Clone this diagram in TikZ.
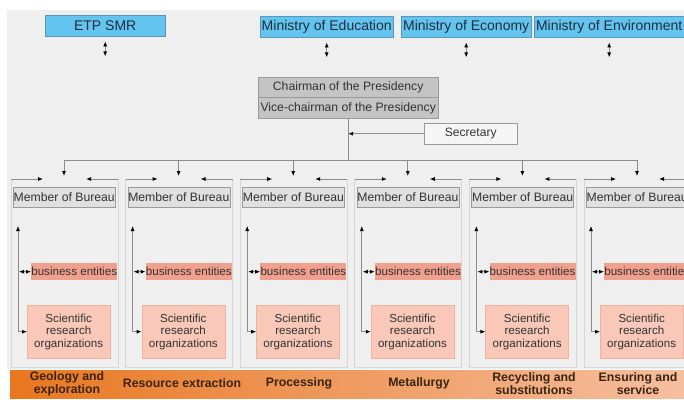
\documentclass[tikz,border=0pt]{standalone}
\usepackage{fontspec}
\setmainfont{Liberation Sans}
\usetikzlibrary{arrows.meta}
\definecolor{bggray}{HTML}{EFEFEF}
\definecolor{minblue}{HTML}{63C4F0}
\definecolor{minline}{HTML}{5A96B9}
\definecolor{mintext}{HTML}{1F2D3D}
\definecolor{chairgray}{HTML}{C4C4C4}
\definecolor{boxline}{HTML}{9A9A9A}
\definecolor{secfill}{HTML}{F5F5F5}
\definecolor{memfill}{HTML}{E0E0E0}
\definecolor{framegray}{HTML}{D6D6D6}
\definecolor{linegray}{HTML}{8C8C8C}
\definecolor{entfill}{HTML}{F2A08E}
\definecolor{scifill}{HTML}{F9C8B8}
\definecolor{sciline}{HTML}{EFB4A0}
\definecolor{stripleft}{HTML}{E8771F}
\definecolor{stripright}{HTML}{F6BEA0}
\definecolor{striptext}{HTML}{3A2410}
\definecolor{boxtext}{HTML}{333333}

\begin{document}
\begin{tikzpicture}[x=1pt, y=-1pt,
ministry/.style = {draw=minline, fill=minblue, text=mintext, inner sep=0pt,
  minimum height=21, anchor=north west, font=\fontsize{14}{16}\selectfont},
chair/.style = {draw=boxline, fill=chairgray, text=boxtext, inner sep=0pt,
  minimum width=180, anchor=north west, font=\fontsize{12.2}{14}\selectfont},
member/.style = {draw=boxline, fill=memfill, text=boxtext, inner sep=0pt,
  minimum width=102, minimum height=20, anchor=north west,
  font=\fontsize{12.2}{14}\selectfont},
entity/.style = {fill=entfill, text=boxtext, inner sep=0pt, minimum width=86,
  minimum height=17, anchor=north west, font=\fontsize{11.6}{13}\selectfont},
science/.style = {draw=sciline, fill=scifill, text=boxtext, inner sep=0pt,
  minimum width=83, minimum height=53, anchor=north west, align=center,
  font=\fontsize{11.6}{12.5}\selectfont},
frame/.style = {draw=framegray, line width=0.9},
wire/.style = {draw=linegray, line width=0.8},
arr/.style = {wire, -{Latex[length=5pt, width=4pt, color=black]}},
dbl/.style = {wire, {Latex[length=5pt, width=4pt, color=black]}-{Latex[length=5pt, width=4pt, color=black]}},
sector/.style = {text=striptext, align=center, font=\bfseries\fontsize{12.3}{13}\selectfont}
]
\useasboundingbox (0,0) rectangle (684,399);
\clip (0,0) rectangle (684,399);
\fill[bggray] (7,10) rectangle (684,369);

% ministries
\node[ministry, minimum width=120] (etp) at (45,15) {ETP SMR};
\node[ministry, minimum width=133] (edu) at (260,16) {Ministry of Education};
\node[ministry, minimum width=130] (eco) at (401,16) {Ministry of Economy};
\node[ministry, minimum width=150] (env) at (534,16) {Ministry of Environment};
\foreach \m in {etp, edu, eco, env}
  \draw[dbl] ([yshift=-5]\m.south) -- ([yshift=-20]\m.south);

% presidency
\node[chair, minimum height=20] (ch1) at (258,77) {Chairman of the Presidency};
\node[chair, minimum height=21, anchor=north] (ch2) at (ch1.south) {Vice-chairman of the Presidency};
\node[draw=boxline, fill=secfill, text=boxtext, minimum width=93, minimum height=21,
  inner sep=0pt, anchor=north west, font=\fontsize{12.1}{14}\selectfont] (sec) at (424,123) {Secretary};
\draw[arr] (sec.west) -- (sec.west -| ch2.south);

% bureau columns
\foreach \i in {0,...,5}{
  \pgfmathsetmacro\x{11+114.6*\i}
  \coordinate (tl\i) at (\x,179);
  \coordinate (tr\i) at (\x+107,179);
  \coordinate (d\i) at (\x+53,176);
  \coordinate (up\i) at (\x+7,226);
  \draw[frame] (tl\i) -- (\x,367) -- (\x+107,367) -- (tr\i);
  \draw[arr] (tl\i) -- ++(32,0);
  \draw[arr] (tr\i) -- ++(-32,0);
  \node[member] (mb\i) at (\x+2,187) {Member of Bureau};
  \node[entity] (be\i) at (\x+20,263) {business entities};
  \node[science] (sro\i) at (\x+16,305) {Scientific\\research\\organizations};
  \draw[dbl] (up\i) -- (up\i |- sro\i.west) -- (sro\i.west);
  \draw[dbl] ([xshift=1]up\i |- be\i.west) -- (be\i.west);
}

% bus
\coordinate (bus) at (0,160);
\draw[wire] (ch2.south) -- (ch2.south |- bus);
\draw[wire] (d0 |- bus) -- (d5 |- bus);
\foreach \i in {0,...,5}
  \draw[arr] (d\i |- bus) -- (d\i);

% sectors
\shade[left color=stripleft, right color=stripright] (10,370) rectangle (684,398);
\node[sector] (s0) at (67,384) {Geology and\\exploration};
\node[sector] (s1) at (182,383) {Resource extraction};
\node[sector] (s2) at (299,383) {Processing};
\node[sector] (s3) at (419,383) {Metallurgy};
\node[sector] (s4) at (534,384) {Recycling and\\substitutions};
\node[sector] (s5) at (638,384) {Ensuring and\\service};
\end{tikzpicture}
\end{document}
